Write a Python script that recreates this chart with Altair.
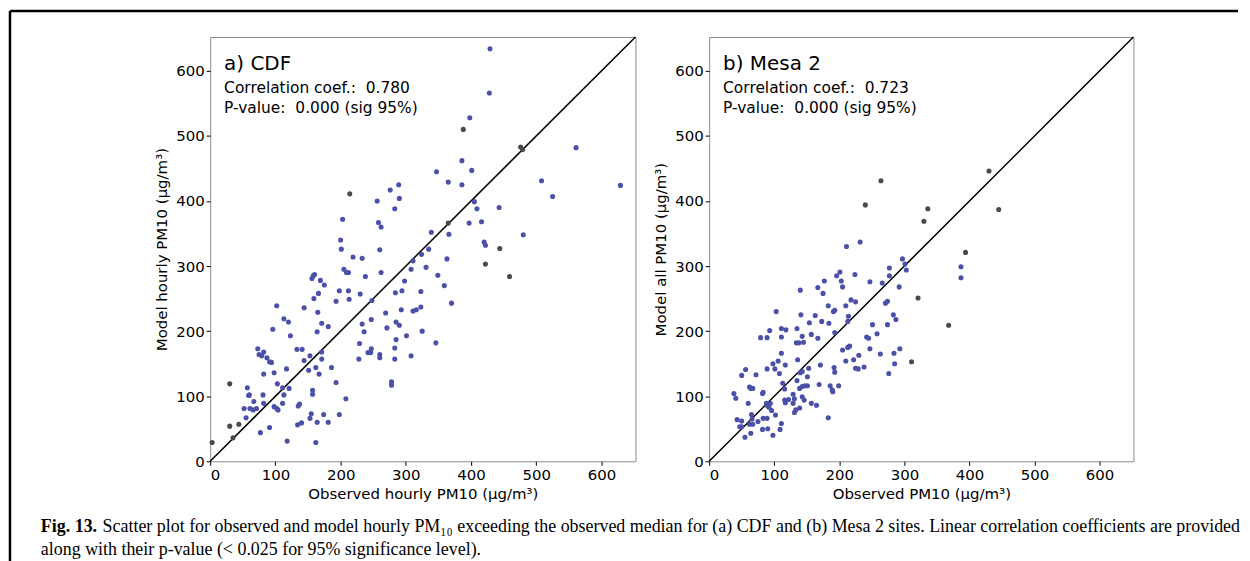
import altair as alt
import pandas as pd

# ---------------- data ----------------
# Panel a) CDF : observed hourly PM10 vs model hourly PM10
a_blue_obs = [429, 428, 398, 561, 386, 401, 347, 365, 386, 508, 525, 629, 276, 289, 256, 290, 283, 405, 409, 443,
              203, 258, 262, 416, 397, 339, 366, 480, 200, 201, 260, 420, 422, 335, 324, 219, 233, 363,
              311, 308, 331, 349, 359, 370, 323, 323, 316, 311, 293, 298, 294, 284, 308, 301, 325, 346,
              285, 290, 285, 283, 283, 278, 278, 262, 248, 238, 230, 269, 271, 247, 233, 236, 229, 228,
              247, 246, 242, 260, 260, 205, 209, 212, 198, 212, 213, 193, 208, 198, 193, 186, 181, 171,
              164, 165, 166, 159, 156, 158, 160, 169, 175, 144, 171, 171, 167, 162, 153, 144, 151, 133,
              141, 123, 120, 113, 117, 121, 111, 113, 111, 102, 96, 98, 103, 98, 102, 104, 73, 75, 79, 82,
              87, 91, 94, 82, 81, 82, 57, 60, 59, 67, 52, 61, 66, 71, 55, 77, 91, 118, 135, 137, 134, 140,
              153, 155, 157, 157, 164, 174, 181, 162]
a_blue_mod = [634, 566, 528, 482, 462, 447, 445, 429, 425, 431, 407, 424, 417, 425, 400, 404, 388, 399, 388, 390,
              372, 367, 360, 368, 366, 352, 349, 348, 340, 326, 325, 337, 332, 326, 318, 314, 312, 311,
              308, 295, 298, 286, 270, 243, 261, 237, 233, 231, 233, 277, 262, 259, 162, 193, 200, 182,
              214, 209, 187, 174, 157, 122, 117, 290, 247, 284, 257, 228, 205, 218, 211, 199, 181, 157,
              173, 167, 167, 164, 159, 295, 290, 290, 262, 262, 249, 246, 96, 72, 121, 144, 207, 212,
              199, 229, 258, 250, 281, 285, 287, 278, 271, 236, 168, 157, 134, 144, 162, 155, 140, 172,
              172, 193, 214, 219, 142, 112, 113, 102, 89, 239, 203, 136, 119, 84, 81, 79, 173, 164, 162, 168,
              159, 153, 152, 134, 102, 89, 113, 102, 101, 92, 81, 81, 79, 81, 67, 44, 52, 31, 85, 88, 56, 59,
              66, 73, 109, 103, 60, 72, 60, 29]
a_gray_obs = [388, 476, 479, 214, 365, 444, 422, 459, 30, 30, 44, 35, 3]
a_gray_mod = [510, 483, 479, 411, 366, 327, 303, 284, 119, 54, 57, 36, 29]

# Panel b) Mesa 2 : observed PM10 vs model all PM10
b_blue_obs = [211, 232, 297, 301, 303, 277, 277, 292, 387, 387, 266, 271, 274, 247, 224, 196, 201, 203, 205, 210,
              218, 225, 214, 213, 177, 175, 167, 183, 191, 193, 163, 173, 184, 193, 154, 157, 167,
              140, 141, 135, 143, 134, 138, 145, 103, 111, 118, 111, 93, 79, 89, 111, 136, 117, 106, 108,
              98, 101, 89, 56, 50, 72, 62, 64, 67, 83, 82, 38, 41, 60, 113, 116, 116, 117, 122, 129, 131,
              129, 135, 143, 140, 139, 143, 147, 151, 143, 146, 151, 153, 139, 133, 131, 157, 165, 169, 171,
              186, 189, 190, 192, 193, 199, 183, 88, 90, 92, 94, 96, 102, 83, 89, 75, 65, 66, 62, 67, 43, 50,
              50, 47, 55, 64, 82, 90, 98, 109, 111, 205, 213, 210, 222, 225, 229, 230, 238, 247, 242, 245,
              251, 258, 263, 284, 285, 276, 293, 283, 287, 274, 216]
b_blue_mod = [330, 337, 311, 303, 294, 297, 285, 268, 299, 282, 274, 243, 246, 276, 287, 285, 291, 277, 268, 239,
              248, 245, 223, 215, 277, 258, 267, 239, 230, 232, 224, 215, 212, 198, 213, 195, 189,
              263, 225, 204, 192, 182, 182, 183, 230, 204, 202, 191, 201, 190, 190, 166, 156, 148, 154, 135,
              150, 142, 142, 141, 132, 133, 114, 112, 112, 106, 104, 104, 97, 89, 120, 111, 94, 90, 95, 103, 96,
              89, 124, 138, 136, 112, 115, 116, 116, 99, 94, 130, 143, 82, 79, 75, 89, 86, 118, 148,
              116, 110, 107, 144, 137, 116, 67, 89, 85, 83, 89, 78, 71, 66, 66, 61, 72, 65, 57, 57, 64, 62,
              53, 53, 37, 43, 49, 50, 40, 49, 58, 171, 175, 154, 156, 143, 142, 163, 145, 173, 191, 189,
              210, 196, 165, 166, 150, 135, 173, 225, 218, 210, 177]
b_gray_obs = [430, 264, 240, 336, 445, 330, 394, 321, 368, 311]
b_gray_mod = [446, 431, 394, 388, 387, 369, 321, 251, 209, 153]

diag = [0, 652]
tick_vals = [0, 100, 200, 300, 400, 500, 600]

panel_labels = ["a) CDF", "b) Mesa 2"]
corr_text = ["Correlation coef.:\u00a0 0.780", "Correlation coef.:\u00a0 0.723"]
pval_text = ["P-value:\u00a0 0.000 (sig 95%)", "P-value:\u00a0 0.000 (sig 95%)"]
x_titles = ["Observed hourly PM10 (\u03bcg/m\u00b3)", "Observed PM10 (\u03bcg/m\u00b3)"]
y_titles = ["Model hourly PM10 (\u03bcg/m\u00b3)", "Model all PM10 (\u03bcg/m\u00b3)"]

caption_bold = "Fig. 13."
caption_1 = ("Scatter plot for observed and model hourly PM\u2081\u2080 exceeding the observed median for (a) CDF "
             "and (b) Mesa 2 sites. Linear correlation coefficients are provided")
caption_2 = "along with their p-value (< 0.025 for 95% significance level)."

BLUE = "#4b50a8"
GRAY = "#4a4a4a"
FONT = "DejaVu Sans"
SERIF = "Liberation Serif"
AXMAX = 652


def panel(bx, by, gx, gy, idx, w, extras=None):
    sc = alt.Scale(domain=[0, AXMAX], nice=False, zero=True)
    xax = alt.Axis(values=tick_vals, tickSize=4, tickColor="black", labelFontSize=15, labelFont=FONT,
                   labelColor="black", labelPadding=2, title=x_titles[idx], titleFont=FONT, titleFontSize=15,
                   titleFontWeight="normal", titleColor="black", titlePadding=4, domain=False, grid=False)
    yax = alt.Axis(values=tick_vals, tickSize=4, tickColor="black", labelFontSize=15, labelFont=FONT,
                   labelColor="black", labelPadding=2, title=y_titles[idx], titleFont=FONT, titleFontSize=15,
                   titleFontWeight="normal", titleColor="black", titlePadding=6, domain=False, grid=False)
    X = alt.X("obs:Q", scale=sc, axis=xax)
    Y = alt.Y("mod:Q", scale=sc, axis=yax)

    line = alt.Chart(pd.DataFrame({"obs": diag, "mod": diag})).mark_line(
        color="black", strokeWidth=1.5).encode(x=X, y=Y)
    gray = alt.Chart(pd.DataFrame({"obs": gx, "mod": gy})).mark_circle(
        size=26, color=GRAY, opacity=1).encode(x=X, y=Y)
    blue = alt.Chart(pd.DataFrame({"obs": bx, "mod": by})).mark_circle(
        size=26, color=BLUE, opacity=1).encode(x=X, y=Y)

    one = pd.DataFrame({"k": [0]})
    t1 = alt.Chart(one).mark_text(align="left", baseline="middle", font=FONT, fontSize=20, color="black").encode(
        x=alt.value(14), y=alt.value(27), text=alt.value(panel_labels[idx]))
    t2 = alt.Chart(one).mark_text(align="left", baseline="middle", font=FONT, fontSize=15.5, color="black").encode(
        x=alt.value(14), y=alt.value(51), text=alt.value(corr_text[idx]))
    t3 = alt.Chart(one).mark_text(align="left", baseline="middle", font=FONT, fontSize=15.5, color="black").encode(
        x=alt.value(14), y=alt.value(71), text=alt.value(pval_text[idx]))
    layers = [line, gray, blue, t1, t2, t3] + (extras or [])
    return alt.layer(*layers).properties(width=w, height=426)


one = pd.DataFrame({"k": [0]})
frame_left = alt.Chart(one).mark_rule(color="black", strokeWidth=2.5).encode(
    x=alt.value(-201), y=alt.value(-26), y2=alt.value(526))
frame_top = alt.Chart(one).mark_rule(color="black", strokeWidth=2.5).encode(
    x=alt.value(-201), x2=alt.value(1032), y=alt.value(-26))
cap_b = alt.Chart(one).mark_text(align="left", baseline="middle", font=SERIF, fontSize=18,
                                 fontWeight="bold", color="black").encode(
    x=alt.value(-170), y=alt.value(492), text=alt.value(caption_bold))
cap_1 = alt.Chart(one).mark_text(align="left", baseline="middle", font=SERIF, fontSize=18, color="black").encode(
    x=alt.value(-108), y=alt.value(492), text=alt.value(caption_1))
cap_2 = alt.Chart(one).mark_text(align="left", baseline="middle", font=SERIF, fontSize=18, color="black").encode(
    x=alt.value(-170), y=alt.value(515), text=alt.value(caption_2))

pa = panel(a_blue_obs, a_blue_mod, a_gray_obs, a_gray_mod, 0, 427,
           extras=[frame_left, frame_top, cap_b, cap_1, cap_2])
pb = panel(b_blue_obs, b_blue_mod, b_gray_obs, b_gray_mod, 1, 426)

chart = alt.hconcat(pa, pb, spacing=74, bounds="flush").properties(padding=0).configure_view(
    stroke="#8a8a8a", strokeWidth=1)

chart.save("out.html", embed_options={"renderer": "svg", "actions": False})
